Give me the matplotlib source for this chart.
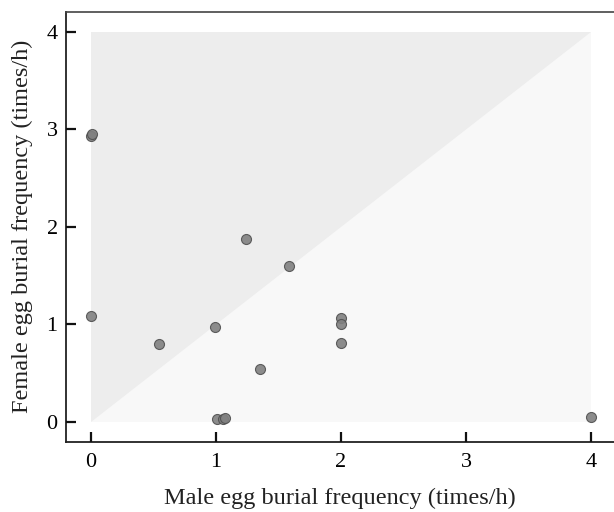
import numpy as np
import matplotlib.pyplot as plt

# egg burial frequencies (times/h)
male = [0.0, 0.01, 0.0, 0.546, 0.995, 1.243, 1.584, 1.355, 1.005, 1.053, 1.07, 2.0, 2.0, 2.0, 4.0]
female = [2.93, 2.95, 1.087, 0.794, 0.978, 1.874, 1.597, 0.544, 0.031, 0.028, 0.045, 1.064, 1.005, 0.804, 0.05]
ticks = [0, 1, 2, 3, 4]

plt.rcParams['font.family'] = ['Liberation Serif', 'DejaVu Serif']

fig = plt.figure(figsize=(6.14, 5.12), dpi=100)
ax = fig.add_axes([66 / 614, (512 - 441.5) / 512, (614 - 66) / 614, (441.5 - 12) / 512])
ax.set_axisbelow(False)

# background shading: lower half light, upper triangle darker
ax.fill([0, 4, 4, 0], [0, 0, 4, 4], color='#f8f8f8', lw=0, zorder=-2)
ax.fill([0, 0, 4], [0, 4, 4], color='#ededed', lw=0, zorder=-1)

ax.plot(male, female, 'o', ms=7.2, mfc='#808080', mec='#505050', mew=0.8, alpha=0.9, zorder=3)

ax.set_xlim(-0.2, 4.184)
ax.set_ylim(-0.2, 4.2)
ax.set_xticks(ticks)
ax.set_yticks(ticks)
ax.tick_params(direction='in', length=7, width=1.6, labelsize=16, pad=6, color='#111111')
ax.tick_params(axis='x', pad=8)
for side in ['left', 'bottom']:
    ax.spines[side].set_linewidth(1.3)
    ax.spines[side].set_color('#222222')
ax.spines['top'].set_linewidth(1.2)
ax.spines['top'].set_color('#444444')
ax.spines['right'].set_visible(False)

ax.set_xlabel('Male egg burial frequency (times/h)', fontsize=17.5, labelpad=12, color='#222222')
ax.set_ylabel('Female egg burial frequency (times/h)', fontsize=17.5, labelpad=10, color='#222222')

fig.savefig('out.png', dpi=100)
